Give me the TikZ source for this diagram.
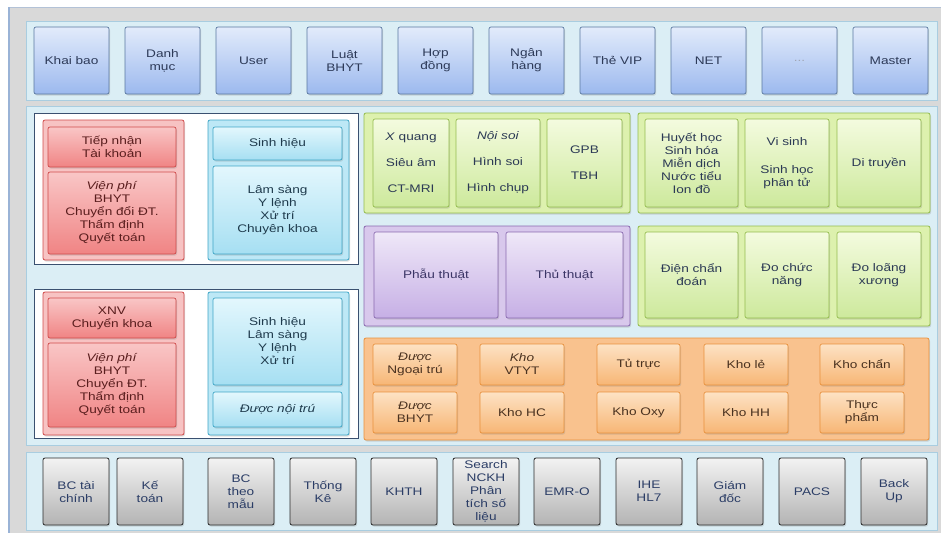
\documentclass[tikz,border=0pt]{standalone}
\usepackage{fontspec}
\setmainfont{Liberation Sans}[FakeStretch=1.24]
\usetikzlibrary{fit,shadows}
\definecolor{framegray}{HTML}{D9D9D9}
\definecolor{frameline}{HTML}{9AB3D6}
\definecolor{panelfill}{HTML}{DBEEF5}
\definecolor{panelline}{HTML}{A9CDE0}
\definecolor{topA}{HTML}{E2EBFB}
\definecolor{topB}{HTML}{9CB9EE}
\definecolor{topL}{HTML}{5A78A0}
\definecolor{topT}{HTML}{2D3A58}
\definecolor{redG}{HTML}{F7C3C3}
\definecolor{redL}{HTML}{D04A4A}
\definecolor{redA}{HTML}{F9C6C6}
\definecolor{redB}{HTML}{F08484}
\definecolor{redT}{HTML}{5A1E1E}
\definecolor{bluG}{HTML}{BDE8F6}
\definecolor{bluL}{HTML}{3FA6C6}
\definecolor{bluA}{HTML}{E3F7FD}
\definecolor{bluB}{HTML}{A6DFF2}
\definecolor{bluT}{HTML}{1F3B4D}
\definecolor{grnP}{HTML}{DDF1AE}
\definecolor{grnL}{HTML}{94BC4E}
\definecolor{grnA}{HTML}{F4FBDF}
\definecolor{grnB}{HTML}{CDE99C}
\definecolor{grnT}{HTML}{2C3A55}
\definecolor{purP}{HTML}{D8C8EC}
\definecolor{purL}{HTML}{8A6AB0}
\definecolor{purA}{HTML}{EFE8F8}
\definecolor{purB}{HTML}{C6AFE5}
\definecolor{purT}{HTML}{3B3566}
\definecolor{ornP}{HTML}{F9C28E}
\definecolor{ornL}{HTML}{E8913C}
\definecolor{ornA}{HTML}{FDE2C4}
\definecolor{ornB}{HTML}{F7B675}
\definecolor{ornT}{HTML}{4A3220}
\definecolor{gryA}{HTML}{F3F3F3}
\definecolor{gryB}{HTML}{B3B3B3}
\definecolor{gryL}{HTML}{2A2A2A}
\definecolor{gryT}{HTML}{2B3D66}
\definecolor{whiteL}{HTML}{3A5070}
% box with a separately placed, named text node
\newcommand\tshift{0pt}
\newcommand\bx[5]{%
  \node[#1, fit={#3}] (#2) {};
  \node[text=#4, yshift=\tshift] (#2-t) at (#2.center) {#5};}
\begin{document}
\begin{tikzpicture}[x=1pt,y=-1pt,
  every node/.style={font=\fontsize{11}{13}\selectfont, align=center, inner sep=0pt, outer sep=0pt},
  shad/.style={drop shadow={shadow xshift=1pt,shadow yshift=-1.5pt,opacity=0.25}},
  panel/.style={fill=panelfill, draw=panelline, line width=1pt},
  topbox/.style={rounded corners=2pt, draw=topL, line width=0.7pt, top color=topA, bottom color=topB, shad},
  whitebox/.style={fill=white, draw=whiteL, line width=0.8pt},
  redgroup/.style={rounded corners=2pt, fill=redG, draw=redL, line width=0.8pt, shad},
  redbox/.style={rounded corners=2pt, draw=redL, line width=0.7pt, top color=redA, bottom color=redB, shad},
  blugroup/.style={rounded corners=2pt, fill=bluG, draw=bluL, line width=0.8pt, shad},
  blubox/.style={rounded corners=2pt, draw=bluL, line width=0.7pt, top color=bluA, bottom color=bluB, shad},
  grnpanel/.style={rounded corners=2pt, fill=grnP, draw=grnL, line width=0.8pt, shad},
  grnbox/.style={rounded corners=2pt, draw=grnL, line width=0.7pt, top color=grnA, bottom color=grnB, shad},
  purpanel/.style={rounded corners=2pt, fill=purP, draw=purL, line width=0.8pt, shad},
  purbox/.style={rounded corners=2pt, draw=purL, line width=0.7pt, top color=purA, bottom color=purB, shad},
  ornpanel/.style={rounded corners=2pt, fill=ornP, draw=ornL, line width=0.8pt, shad},
  ornbox/.style={rounded corners=2pt, draw=ornL, line width=0.7pt, top color=ornA, bottom color=ornB, shad},
  grybox/.style={rounded corners=2pt, draw=gryL, line width=0.8pt, top color=gryA, bottom color=gryB, shad}
]
\useasboundingbox (0,0) rectangle (941,533);
\fill[white] (0,0) rectangle (941,533);
\fill[framegray] (9,7) rectangle (941,533);
\draw[line width=1pt, draw=frameline!60!framegray] (9,7.5) -- (941,7.5);
\draw[line width=2pt, draw=frameline] (9,7) -- (9,533);

% ---------- top panel ----------
\node[panel, fit={(26,21) (937,100)}] (toppanel) {};
\bx{topbox}{t1}{(34,27) (109,94)}{topT}{Khai bao}
\bx{topbox}{t2}{(125,27) (200,94)}{topT}{Danh\\mục}
\bx{topbox}{t3}{(216,27) (291,94)}{topT}{User}
\bx{topbox}{t4}{(307,27) (382,94)}{topT}{Luật\\BHYT}
\bx{topbox}{t5}{(398,27) (473,94)}{topT}{Hợp\\đồng}
\bx{topbox}{t6}{(489,27) (564,94)}{topT}{Ngân\\hàng}
\bx{topbox}{t7}{(580,27) (655,94)}{topT}{Thẻ VIP}
\bx{topbox}{t8}{(671,27) (746,94)}{topT}{NET}
\bx{topbox}{t9}{(762,27) (837,94)}{topT!45}{...}
\bx{topbox}{t10}{(853,27) (928,94)}{topT}{Master}

% ---------- middle panel ----------
\node[panel, fit={(26,106) (937,445)}] (midpanel) {};

\node[whitebox, fit={(34,113) (358,264)}] (w1) {};
\node[whitebox, fit={(34,289) (358,438)}] (w2) {};

\node[redgroup, fit={(43,120) (184,260)}] (rg1) {};
\bx{redbox}{r1}{(48,127) (176,167)}{redT}{Tiếp nhận\\Tài khoản}
\bx{redbox}{r2}{(48,172) (176,254)}{redT}{\textit{Viện phí}\\BHYT\\Chuyển đổi ĐT.\\Thẩm định\\Quyết toán}
\node[redgroup, fit={(43,292) (184,435)}] (rg2) {};
\bx{redbox}{r3}{(48,298) (176,338)}{redT}{XNV\\Chuyển khoa}
\bx{redbox}{r4}{(48,343) (176,427)}{redT}{\textit{Viện phí}\\BHYT\\Chuyển ĐT.\\Thẩm định\\Quyết toán}

\node[blugroup, fit={(208,120) (349,260)}] (bg1) {};
\bx{blubox}{b1}{(213,127) (342,160)}{bluT}{Sinh hiệu}
\bx{blubox}{b2}{(213,166) (342,254)}{bluT}{Lâm sàng\\Y lệnh\\Xử trí\\Chuyên khoa}
\node[blugroup, fit={(208,292) (349,435)}] (bg2) {};
\bx{blubox}{b3}{(213,298) (342,385)}{bluT}{Sinh hiệu\\Lâm sàng\\Y lệnh\\Xử trí}
\bx{blubox}{b4}{(213,392) (342,427)}{bluT}{\textit{Được nội trú}}

% imaging
\node[grnpanel, fit={(364,113) (630,213)}] (gp1) {};
\bx{grnbox}{gx}{(373,119) (449,207)}{grnT}{\textit{X} quang\\[13pt]Siêu âm\\[13pt]CT-MRI}
\bx{grnbox}{gn}{(456,119) (540,207)}{grnT}{\textit{Nội soi}\\[13pt]Hình soi\\[13pt]Hình chụp}
\bx{grnbox}{gg}{(547,119) (622,207)}{grnT}{GPB\\[13pt]TBH}

% lab
\node[grnpanel, fit={(638,113) (930,213)}] (gp2) {};
\bx{grnbox}{gh}{(645,119) (738,207)}{grnT}{\fontsize{11}{12.3}\selectfont Huyết học\\Sinh hóa\\Miễn dịch\\Nước tiểu\\Ion đồ}
\bx{grnbox}{gv}{(745,119) (829,207)}{grnT}{Vi sinh\\[15pt]Sinh học\\phân tử}
\bx{grnbox}{gd}{(837,119) (921,207)}{grnT}{Di truyền}

% surgery
\node[purpanel, fit={(364,226) (630,326)}] (pp) {};
\bx{purbox}{pa}{(374,232) (498,318)}{purT}{Phẫu thuật}
\bx{purbox}{pb}{(506,232) (623,318)}{purT}{Thủ thuật}

% functional
\node[grnpanel, fit={(638,226) (930,326)}] (gp3) {};
\bx{grnbox}{ge}{(645,232) (738,318)}{grnT}{Điện chẩn\\đoán}
\bx{grnbox}{gc}{(745,232) (829,318)}{grnT}{Đo chức\\năng}
\bx{grnbox}{gl}{(837,232) (921,318)}{grnT}{Đo loãng\\xương}

% pharmacy
\node[ornpanel, fit={(364,338) (929,440)}] (op) {};
\bx{ornbox}{o1}{(373,344) (457,385)}{ornT}{\textit{Được}\\Ngoại trú}
\bx{ornbox}{o2}{(480,344) (564,385)}{ornT}{\textit{Kho}\\VTYT}
\bx{ornbox}{o3}{(597,344) (680,385)}{ornT}{Tủ trực}
\bx{ornbox}{o4}{(704,344) (788,385)}{ornT}{Kho lẻ}
\bx{ornbox}{o5}{(820,344) (904,385)}{ornT}{Kho chẩn}
\bx{ornbox}{o6}{(373,392) (457,433)}{ornT}{\textit{Được}\\BHYT}
\bx{ornbox}{o7}{(480,392) (564,433)}{ornT}{Kho HC}
\bx{ornbox}{o8}{(597,392) (680,433)}{ornT}{Kho Oxy}
\bx{ornbox}{o9}{(704,392) (788,433)}{ornT}{Kho HH}
\bx{ornbox}{o10}{(820,392) (904,433)}{ornT}{Thực\\phẩm}

% ---------- bottom panel ----------
\node[panel, fit={(26,452) (937,530)}] (botpanel) {};
\bx{grybox}{s1}{(43,458) (109,525)}{gryT}{BC tài\\chính}
\bx{grybox}{s2}{(117,458) (183,525)}{gryT}{Kế\\toán}
\bx{grybox}{s3}{(208,458) (274,525)}{gryT}{BC\\theo\\mẫu}
\bx{grybox}{s4}{(290,458) (356,525)}{gryT}{Thống\\Kê}
\bx{grybox}{s5}{(371,458) (437,525)}{gryT}{KHTH}
\bx{grybox}{s6}{(453,458) (519,525)}{gryT}{Search\\NCKH\\Phân\\tích số\\liệu}
\bx{grybox}{s7}{(534,458) (600,525)}{gryT}{EMR-O}
\bx{grybox}{s8}{(616,458) (682,525)}{gryT}{IHE\\HL7}
\bx{grybox}{s9}{(697,458) (763,525)}{gryT}{Giám\\đốc}
\bx{grybox}{s10}{(779,458) (845,525)}{gryT}{PACS}
\bx{grybox}{s11}{(861,458) (927,525)}{gryT}{Back\\Up}
\end{tikzpicture}
\end{document}
